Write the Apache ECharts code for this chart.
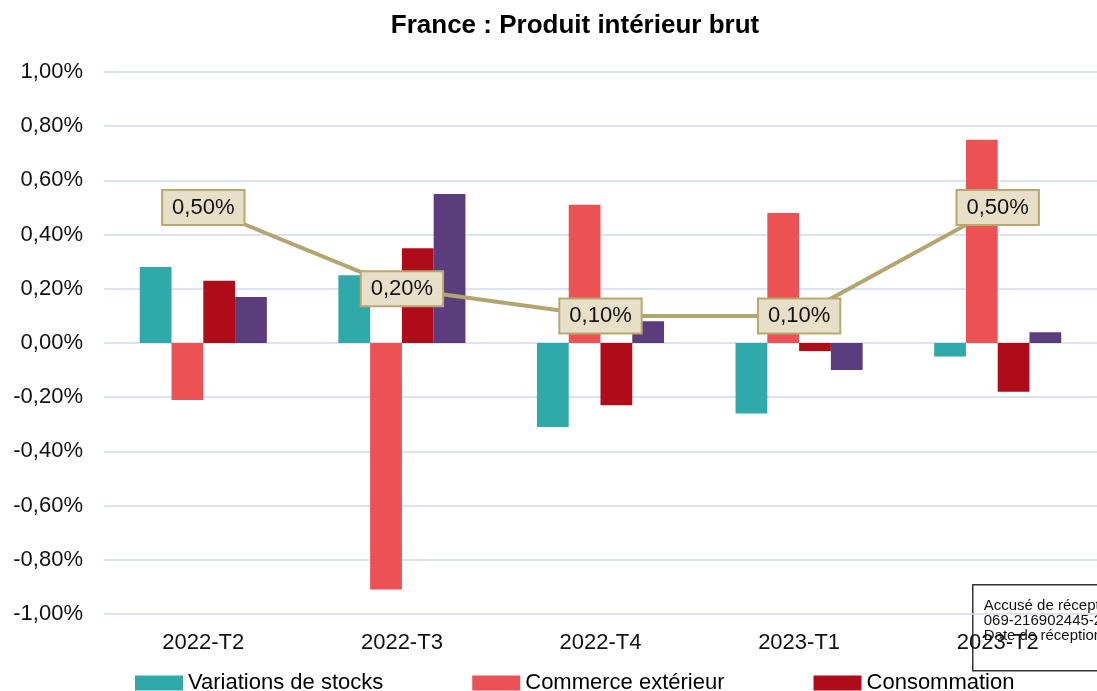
<!DOCTYPE html>
<html>
<head>
<meta charset="utf-8">
<script src="https://cdn.jsdelivr.net/npm/echarts@6/dist/echarts.min.js"></script>
<style>
  html, body { margin: 0; padding: 0; background: #fff; }
  #chart { width: 1097px; height: 691px; }
</style>
</head>
<body>
<div id="chart"></div>
<script>
// trimestres
const categories = ['2022-T2', '2022-T3', '2022-T4', '2023-T1', '2023-T2']
// contributions (en %)
const stocks = [0.28, 0.25, -0.31, -0.26, -0.05]
const commerce = [-0.21, -0.91, 0.51, 0.48, 0.75]
const consommation = [0.23, 0.35, -0.23, -0.03, -0.18]
const investissement = [0.17, 0.55, 0.08, -0.10, 0.04]
// PIB
const pib = [0.50, 0.20, 0.10, 0.10, 0.50]

const fmt = v => v.toFixed(2).replace('.', ',') + '%'
const font = 'Liberation Sans, Arial, sans-serif'

const bar = (name, data, color) => ({
  name,
  type: 'bar',
  data,
  barGap: '0%',
  barCategoryGap: '36%',
  itemStyle: { color },
  z: 2
})

const chart = echarts.init(document.getElementById('chart'))
chart.setOption({
  animation: false,
  textStyle: { fontFamily: font },
  title: {
    text: 'France : Produit intérieur brut',
    left: 570,
    top: 8,
    textAlign: 'center',
    textStyle: { fontSize: 26, fontWeight: 'bold', color: '#000', fontFamily: font }
  },
  legend: {
    data: ['Variations de stocks', 'Commerce extérieur', 'Consommation'],
    left: 130,
    top: 667,
    itemWidth: 48,
    itemHeight: 15,
    itemGap: 89,
    icon: 'rect',
    textStyle: { fontSize: 22, color: '#000', fontFamily: font }
  },
  grid: { left: 104, top: 72, width: 1010, bottom: 77 },
  xAxis: {
    type: 'category',
    data: categories,
    axisLine: { show: false },
    axisTick: { show: false },
    axisLabel: { fontSize: 22, color: '#111', margin: 18, fontFamily: font }
  },
  yAxis: {
    type: 'value',
    min: -1,
    max: 1,
    interval: 0.2,
    axisLine: { show: false },
    axisTick: { show: false },
    axisLabel: { fontSize: 22, color: '#111', margin: 21, formatter: fmt, fontFamily: font },
    splitLine: { lineStyle: { color: '#cfd8ee', width: 1.5 } }
  },
  series: [
    bar('Variations de stocks', stocks, '#30a9ab'),
    bar('Commerce extérieur', commerce, '#ec5254'),
    bar('Consommation', consommation, '#ae0c18'),
    bar('Investissement', investissement, '#5b3d7d'),
    {
      name: 'PIB',
      type: 'line',
      data: pib,
      symbol: 'circle',
      symbolSize: 1,
      showSymbol: true,
      z: 5,
      itemStyle: { color: '#b4a46d' },
      lineStyle: { color: '#b4a46d', width: 4 },
      label: {
        show: true,
        position: 'inside',
        formatter: p => fmt(p.value),
        fontSize: 22,
        color: '#111',
        backgroundColor: '#e8dfc8',
        borderColor: '#b9a770',
        borderWidth: 2,
        padding: [6, 9, 5, 9],
        fontFamily: font
      }
    }
  ],
  graphic: [
    {
      type: 'group',
      left: 972,
      top: 584,
      children: [
        { type: 'rect', shape: { x: 0, y: 0, width: 200, height: 86 }, style: { fill: 'rgba(255,255,255,0.3)', stroke: '#333', lineWidth: 1.5 } },
        { type: 'text', x: 11, y: 14, style: { text: 'Accusé de réception en préfecture', fontSize: 15, fill: '#111', fontFamily: font } },
        { type: 'text', x: 11, y: 29, style: { text: '069-216902445-20230926', fontSize: 15, fill: '#111', fontFamily: font } },
        { type: 'text', x: 11, y: 44, style: { text: 'Date de réception préfecture', fontSize: 15, fill: '#111', fontFamily: font } }
      ]
    }
  ]
})
</script>
</body>
</html>
